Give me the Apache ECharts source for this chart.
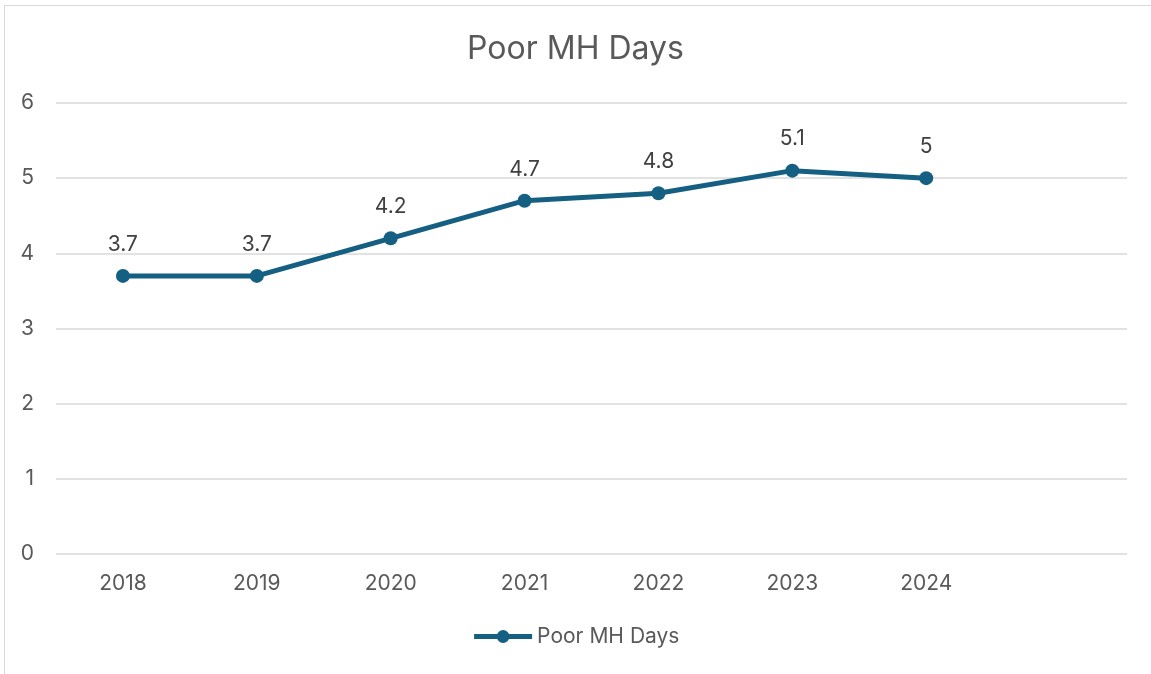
<!DOCTYPE html>
<html>
<head>
<meta charset="utf-8">
<script src="https://cdn.jsdelivr.net/npm/echarts@6/dist/echarts.min.js"></script>
<style>
  html, body { margin: 0; padding: 0; background: #fff; }
  #frame { position: absolute; left: 4px; top: 5px; width: 1147px; height: 669px;
           border-top: 1.5px solid #d9d9d9; border-left: 1.5px solid #d9d9d9; box-sizing: border-box; }
  #chart { position: absolute; left: 0; top: 0; width: 1151px; height: 674px; }
</style>
</head>
<body>
<div id="frame"></div>
<div id="chart"></div>
<script>
  // categories (the last slot is empty in the source chart)
  var years = ['2018', '2019', '2020', '2021', '2022', '2023', '2024', ''];
  var poorMhDays = [3.7, 3.7, 4.2, 4.7, 4.8, 5.1, 5];
  var seriesName = 'Poor MH Days';
  var titleText = 'Poor MH Days';

  var lineColor = '#156082';
  var textColor = '#595959';
  var fontFam = 'Inter, "Open Sans", sans-serif';

  var myChart = echarts.init(document.getElementById('chart'), null, { renderer: 'canvas' });
  var option = {
    animation: false,
    title: {
      text: titleText,
      left: 'center',
      top: 28,
      textStyle: { color: textColor, fontSize: 32, fontWeight: 'normal', fontFamily: fontFam }
    },
    legend: {
      bottom: 22,
      left: 'center',
      itemWidth: 58,
      itemHeight: 16,
      itemGap: 6,
      data: [seriesName],
      lineStyle: { width: 5 },
      textStyle: { color: textColor, fontSize: 21, fontFamily: fontFam }
    },
    grid: { left: 56, right: 24, top: 103, bottom: 120 },
    xAxis: {
      type: 'category',
      data: years,
      boundaryGap: true,
      axisLine: { show: false },
      axisTick: { show: false },
      axisLabel: { color: textColor, fontSize: 21, margin: 19, fontFamily: fontFam }
    },
    yAxis: {
      type: 'value',
      min: 0,
      max: 6,
      interval: 1,
      axisLine: { show: false },
      axisTick: { show: false },
      axisLabel: { color: textColor, fontSize: 21, margin: 22, fontFamily: fontFam },
      splitLine: { lineStyle: { color: '#d9d9d9', width: 1.5 } }
    },
    series: [{
      name: seriesName,
      type: 'line',
      data: poorMhDays,
      symbol: 'circle',
      symbolSize: 14,
      itemStyle: { color: lineColor },
      lineStyle: { color: lineColor, width: 5 },
      label: {
        show: true,
        position: 'top',
        distance: 14,
        color: '#404040',
        fontSize: 21,
        fontFamily: fontFam
      }
    }]
  };
  myChart.setOption(option);
</script>
</body>
</html>
